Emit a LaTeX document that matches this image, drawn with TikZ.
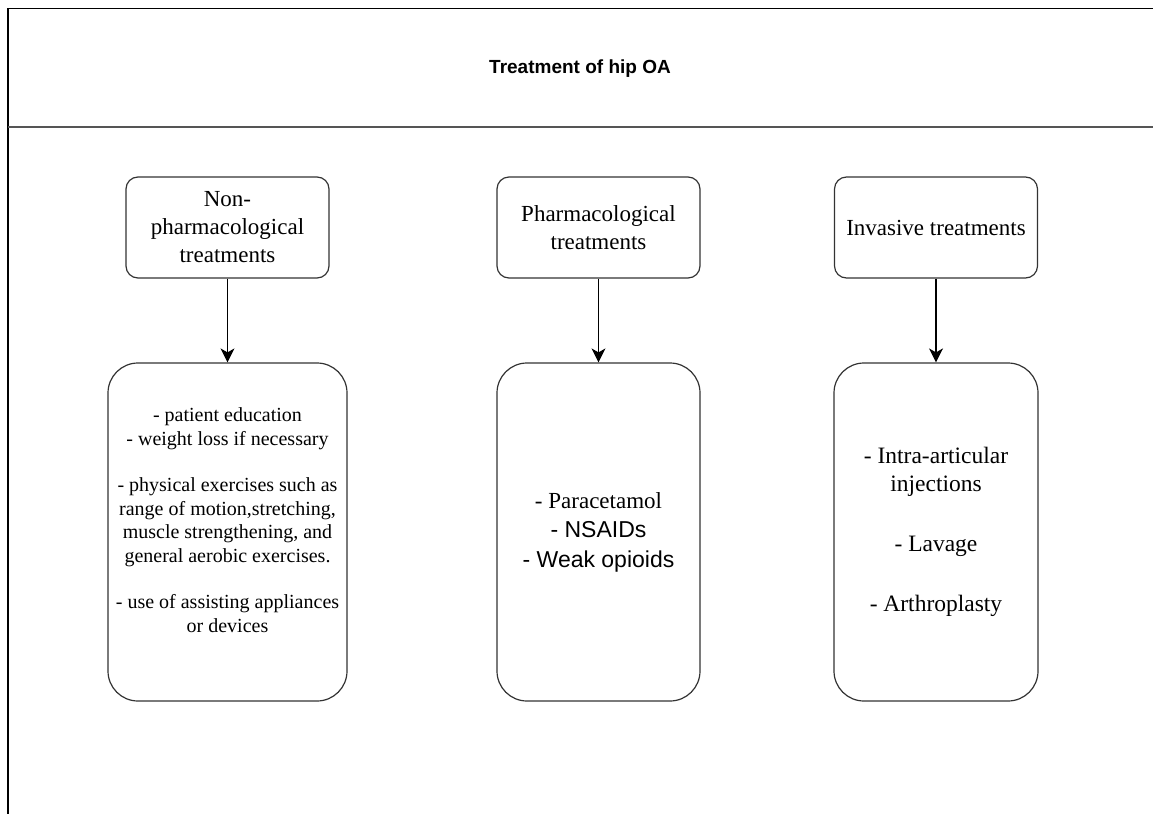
\documentclass[tikz,border=0pt]{standalone}
\usepackage{fontspec}
\setmainfont{Liberation Serif}
\setsansfont{Liberation Sans}
\usetikzlibrary{arrows.meta}
\definecolor{framegray}{RGB}{85, 85, 85}
\definecolor{boxgray}{RGB}{51, 51, 51}

\begin{document}
\begin{tikzpicture}[
        x=1pt,
        y=-1pt,
        headbox/.style={
            draw=boxgray,
            line width=1.2pt,
            rounded corners=12pt,
            minimum width=203pt,
            minimum height=101pt,
            inner sep=0pt,
            align=center,
            font=\fontsize{23}{28}\selectfont
        },
        listbox/.style={
            draw=boxgray,
            line width=1.2pt,
            rounded corners=30pt,
            minimum height=338pt,
            inner sep=0pt,
            align=center
        },
        link/.style={
            -{Stealth[length=14pt, width=14pt, inset=4pt]},
            line width=1.3pt
        },
    ]
    \useasboundingbox (0,0) rectangle (1153,814);
    \draw[line width=1.5pt] (1153,8.5) -- (8,8.5) -- (8,814);
    \draw[line width=2pt, framegray] (8,127) -- (1153,127);
    \node[font=\fontsize{19}{23}\sffamily\bfseries] (title) at (580,69) {Treatment of hip OA};

    \node[headbox] (nonpharm) at (227.5,227.5) {Non-\\pharmacological\\treatments};
    \node[headbox] (pharm) at (598.5,227.5) {Pharmacological\\treatments};
    \node[headbox] (invasive) at (936,227.5) {Invasive treatments};

    \node[
        listbox,
        minimum width=239pt,
        font=\fontsize{20}{23.5}\selectfont
    ] (nonpharmlist) at (227.5,532) {
        - patient education\\
        - weight loss if necessary\\[23pt]
        - physical exercises such as\\
        range of motion,stretching,\\
        muscle strengthening, and\\
        general aerobic exercises.\\[23pt]
        - use of assisting appliances\\
        or devices\\
        ~
    };
    \node[
        listbox,
        minimum width=203pt,
        font=\fontsize{23}{29.5}\selectfont
    ] (pharmlist) at (598.5,532) {
        - Paracetamol\\
        {\sffamily - NSAIDs}\\
        {\sffamily - Weak opioids}
    };
    \node[
        listbox,
        minimum width=204pt,
        font=\fontsize{23.5}{28}\selectfont
    ] (invasivelist) at (936,532) {
        - Intra-articular\\
        injections\\[32pt]
        - Lavage\\[32pt]
        - Arthroplasty
    };

    \draw[link] (nonpharm) -- (nonpharmlist);
    \draw[link] (pharm) -- (pharmlist);
    \draw[link] (invasive) -- (invasivelist);
\end{tikzpicture}
\end{document}
